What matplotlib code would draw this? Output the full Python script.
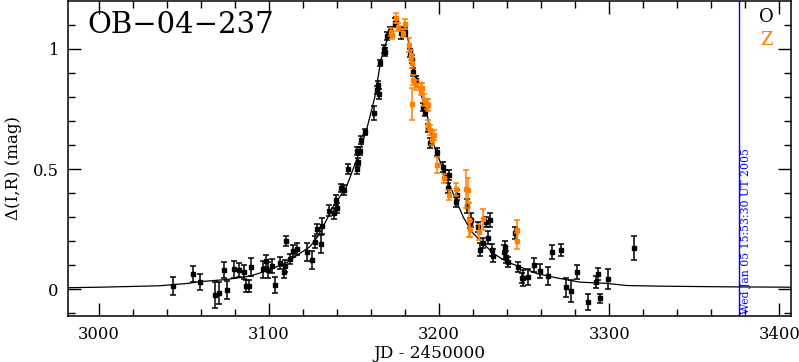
import matplotlib
matplotlib.use('Agg')
import matplotlib.pyplot as plt
from matplotlib.ticker import MultipleLocator, FuncFormatter

# OGLE "O" band points: JD-2450000, delta mag, error
o_t = [3043.5, 3055.3, 3059.2, 3068.2, 3070.4, 3073.5, 3075.5, 3079.4, 3082.4, 3085.5,
       3086.5, 3088.2, 3089.4, 3096.5, 3098.2, 3099.4, 3101.4, 3103.4, 3106.3, 3108.5,
       3109.2, 3110.2, 3112.4, 3114.1, 3116.5, 3122.4, 3125.3, 3126.9, 3128.2, 3130.4,
       3131.2, 3135.4, 3138.1, 3139.6, 3140.2, 3142.2, 3144.1, 3146.5, 3151.4, 3152.0,
       3151.8, 3153.4, 3154.1, 3156.3, 3161.8, 3163.2, 3164.1, 3164.4, 3165.1, 3167.5,
       3168.1, 3169.4, 3171.0, 3173.9, 3174.9, 3177.3, 3180.2, 3182.8, 3183.8, 3184.7,
       3186.3, 3190.6, 3191.6, 3193.5, 3194.9, 3198.8, 3202.0, 3203.4, 3205.9, 3205.3,
       3209.8, 3210.6, 3216.5, 3218.1, 3218.5, 3222.6, 3223.9, 3225.9, 3227.5, 3228.8,
       3229.8, 3231.0, 3231.8, 3238.1, 3238.6, 3239.6, 3240.6, 3244.5, 3246.5, 3248.5,
       3249.4, 3252.4, 3255.7, 3259.2, 3264.1, 3266.5, 3271.6, 3274.5, 3277.6, 3281.2,
       3287.6, 3292.2, 3293.5, 3294.7, 3299.4, 3314.5]
o_m = [0.014, 0.063, 0.029, -0.026, -0.018, 0.078, -0.003, 0.083, 0.078, 0.071,
       0.014, 0.012, 0.092, 0.082, 0.118, 0.078, 0.096, 0.017, 0.107, 0.072,
       0.097, 0.201, 0.125, 0.160, 0.168, 0.154, 0.120, 0.197, 0.249, 0.188,
       0.263, 0.326, 0.315, 0.371, 0.336, 0.422, 0.413, 0.501, 0.501, 0.530,
       0.576, 0.576, 0.621, 0.655, 0.732, 0.829, 0.850, 0.813, 0.943, 0.999,
       0.989, 1.054, 1.076, 1.110, 1.118, 1.065, 1.071, 0.982, 0.957, 0.905,
       0.871, 0.760, 0.739, 0.670, 0.607, 0.572, 0.510, 0.475, 0.475, 0.420,
       0.364, 0.392, 0.346, 0.274, 0.288, 0.260, 0.165, 0.193, 0.280, 0.215,
       0.288, 0.165, 0.140, 0.155, 0.174, 0.135, 0.114, 0.232, 0.093, 0.047,
       0.045, 0.051, 0.100, 0.076, 0.054, 0.155, 0.163, 0.007, -0.008, 0.070,
       -0.053, 0.030, 0.065, -0.039, 0.042, 0.172]
o_e = [0.038, 0.033, 0.033, 0.054, 0.046, 0.033, 0.038, 0.035, 0.029, 0.029,
       0.025, 0.025, 0.038, 0.035, 0.025, 0.033, 0.029, 0.033, 0.025, 0.025,
       0.025, 0.021, 0.021, 0.025, 0.025, 0.038, 0.038, 0.025, 0.021, 0.038,
       0.033, 0.023, 0.021, 0.021, 0.021, 0.017, 0.021, 0.021, 0.021, 0.017,
       0.017, 0.017, 0.017, 0.013, 0.029, 0.017, 0.017, 0.021, 0.013, 0.017,
       0.017, 0.017, 0.017, 0.017, 0.017, 0.025, 0.017, 0.017, 0.017, 0.017,
       0.017, 0.017, 0.017, 0.017, 0.021, 0.017, 0.021, 0.021, 0.021, 0.021,
       0.021, 0.021, 0.029, 0.021, 0.029, 0.021, 0.029, 0.021, 0.021, 0.025,
       0.029, 0.025, 0.029, 0.029, 0.025, 0.025, 0.021, 0.025, 0.021, 0.021,
       0.033, 0.033, 0.029, 0.029, 0.038, 0.029, 0.025, 0.038, 0.046, 0.029,
       0.033, 0.025, 0.025, 0.017, 0.042, 0.050]

# "Z" band points
z_t = [3171.4, 3172.4, 3174.9, 3175.9, 3179.8, 3178.8, 3182.2, 3183.4, 3184.1, 3184.7,
       3184.1, 3186.1, 3189.1, 3190.2, 3191.2, 3192.6, 3193.5, 3193.4, 3194.5, 3195.5,
       3196.9, 3198.8, 3202.8, 3205.9, 3209.8, 3215.7, 3217.1, 3217.6, 3218.1, 3223.5,
       3225.5, 3245.5, 3245.9]
z_m = [1.072, 1.058, 1.128, 1.093, 1.104, 1.065, 1.017, 0.975, 0.940, 0.871,
       0.770, 0.850, 0.832, 0.836, 0.788, 0.771, 0.767, 0.683, 0.663, 0.621,
       0.642, 0.517, 0.461, 0.392, 0.415, 0.417, 0.413, 0.288, 0.249, 0.239,
       0.290, 0.246, 0.201]
z_e = [0.017, 0.017, 0.021, 0.017, 0.021, 0.017, 0.029, 0.021, 0.021, 0.021,
       0.067, 0.021, 0.025, 0.021, 0.025, 0.021, 0.025, 0.021, 0.021, 0.021,
       0.021, 0.033, 0.017, 0.021, 0.029, 0.080, 0.050, 0.071, 0.033, 0.033,
       0.042, 0.042, 0.033]

# model curve
fit_t = [2981.9, 3000.4, 3035.7, 3052.4, 3059.2, 3074.9, 3088.6, 3098.5, 3110.2, 3118.1,
         3123.9, 3128.8, 3134.7, 3137.6, 3145.5, 3151.4, 3157.3, 3162.2, 3165.7, 3168.5,
         3171.0, 3173.5, 3175.5, 3177.0, 3179.0, 3181.0, 3183.0, 3186.7, 3192.6, 3196.5,
         3202.4, 3208.2, 3214.1, 3219.1, 3223.9, 3231.8, 3239.6, 3247.5, 3257.3, 3269.1,
         3282.8, 3298.5, 3310.2, 3327.9, 3369.1, 3406.3]
fit_m = [0.006, 0.008, 0.014, 0.024, 0.031, 0.040, 0.054, 0.076, 0.110, 0.149,
         0.176, 0.221, 0.301, 0.343, 0.426, 0.538, 0.663, 0.801, 0.954, 1.020,
         1.070, 1.095, 1.100, 1.085, 1.090, 1.060, 1.000, 0.871, 0.738, 0.607,
         0.496, 0.399, 0.301, 0.239, 0.204, 0.149, 0.114, 0.093, 0.065, 0.047,
         0.029, 0.024, 0.015, 0.0125, 0.0096, 0.008]

now_jd = 3376.16
now_label = 'Wed Jan 05 15:53:30 UT 2005'

ORANGE = '#ff8000'
plt.rcParams['font.family'] = 'DejaVu Serif'

fig = plt.figure(figsize=(7.99, 3.62), dpi=100)
ax = fig.add_axes([0.0855, 0.127, 0.904, 0.869])

ax.plot(fit_t, fit_m, color='black', lw=0.9, zorder=2)
ax.errorbar(o_t, o_m, yerr=o_e, fmt='s', color='black', ms=2.4, elinewidth=1.1,
            capsize=2, capthick=1.1, zorder=3)
ax.errorbar(z_t, z_m, yerr=z_e, fmt='s', color=ORANGE, ms=2.4, elinewidth=1.1,
            capsize=2, capthick=1.1, zorder=4)

ax.axvline(now_jd, color='blue', lw=1.0, zorder=1)
ax.text(now_jd + 1.5, -0.105, now_label, rotation=90, color='blue', fontsize=7.8,
        ha='left', va='bottom')

ax.set_xlim(2981.9, 3406.7)
ax.set_ylim(-0.112, 1.198)
ax.xaxis.set_major_locator(MultipleLocator(100))
ax.xaxis.set_minor_locator(MultipleLocator(20))
ax.yaxis.set_major_locator(MultipleLocator(0.5))
ax.yaxis.set_minor_locator(MultipleLocator(0.1))
ax.yaxis.set_major_formatter(FuncFormatter(lambda v, p: f'{v:g}'))
ax.tick_params(which='both', direction='in', top=True, right=True, width=1.0)
ax.tick_params(which='major', length=9.5, labelsize=11.8, pad=7)
ax.tick_params(which='minor', length=5)
for s in ax.spines.values():
    s.set_linewidth(1.1)

ax.text(0.027, 0.925, 'OB\u221204\u2212237', transform=ax.transAxes, fontsize=21,
        ha='left', va='center')
ax.text(0.966, 0.951, 'O', transform=ax.transAxes, fontsize=13, ha='center', va='center',
        color='black')
ax.text(0.966, 0.878, 'Z', transform=ax.transAxes, fontsize=13, ha='center', va='center',
        color=ORANGE)

fig.text(14 / 799, 1 - 168 / 362, '\u0394(I,R) (mag)', rotation=90, fontsize=12,
         ha='center', va='center')
fig.text(429.5 / 799, 1 - 354 / 362, 'JD - 2450000', fontsize=12.2, ha='center', va='center')

fig.savefig('out.png', dpi=100)
